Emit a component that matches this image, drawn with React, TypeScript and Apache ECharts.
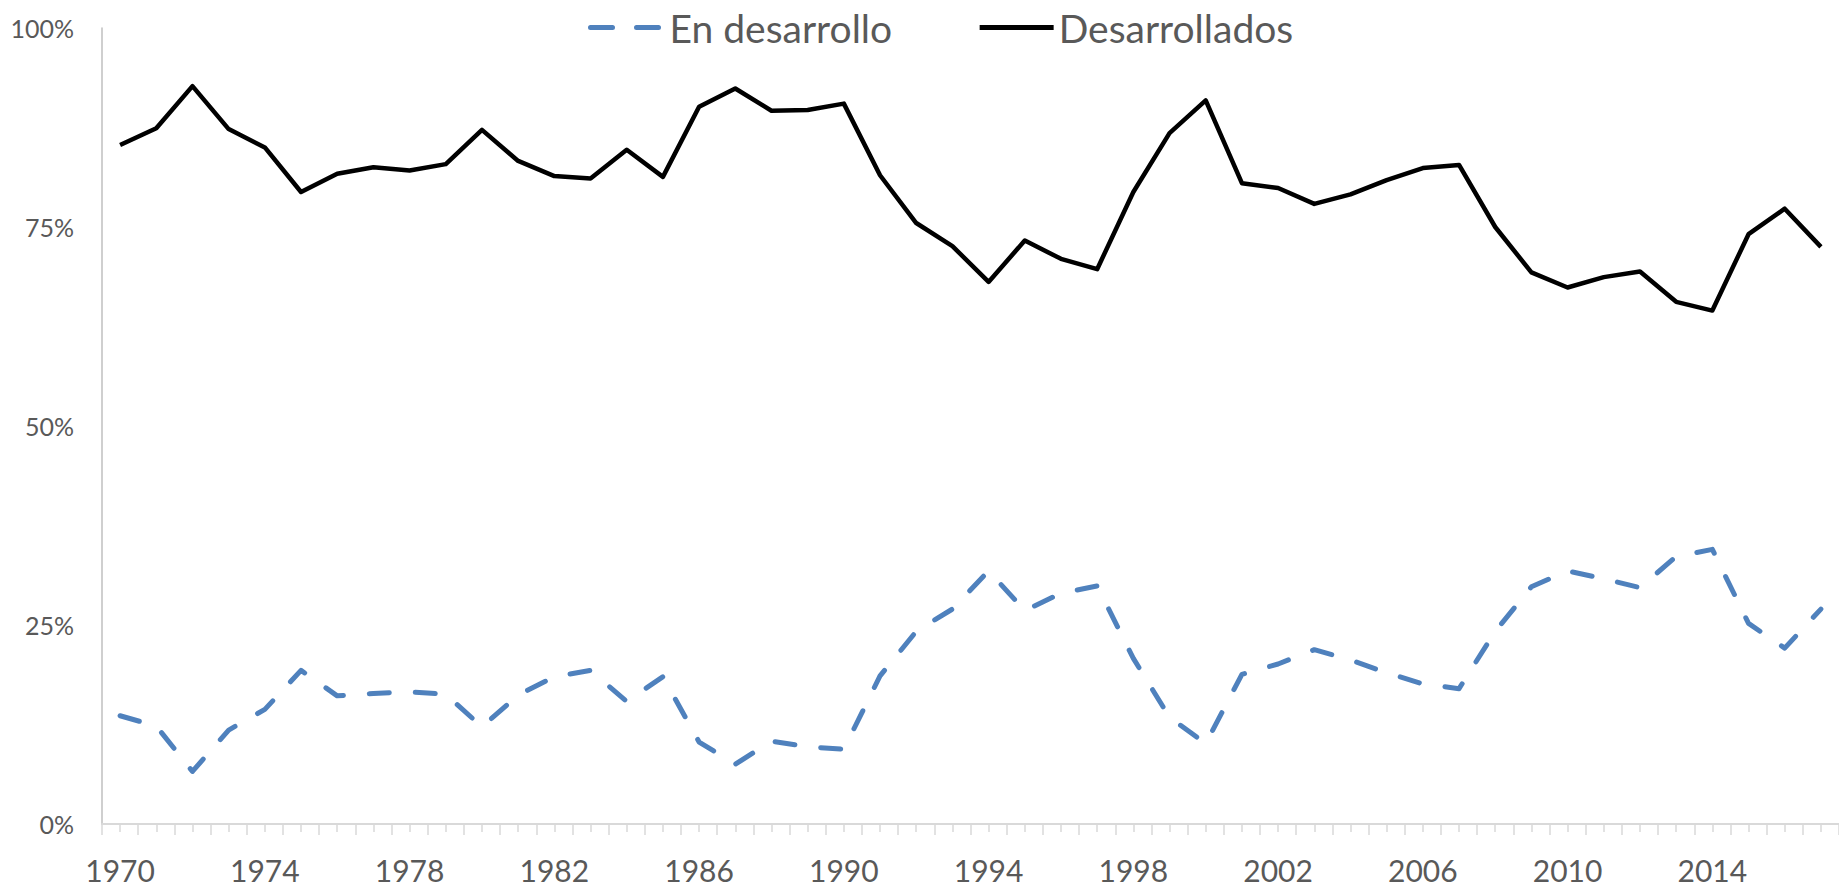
import React, { useEffect, useRef } from "react";
import * as echarts from "echarts";

const years = [
  "1970", "1971", "1972", "1973", "1974", "1975", "1976", "1977", "1978", "1979",
  "1980", "1981", "1982", "1983", "1984", "1985", "1986", "1987", "1988", "1989",
  "1990", "1991", "1992", "1993", "1994", "1995", "1996", "1997", "1998", "1999",
  "2000", "2001", "2002", "2003", "2004", "2005", "2006", "2007", "2008", "2009",
  "2010", "2011", "2012", "2013", "2014", "2015", "2016", "2017",
];

const enDesarrollo = [
  13.6, 12.3, 6.6, 11.8, 14.4, 19.3, 16.1, 16.4, 16.6, 16.3,
  12.2, 16.2, 18.5, 19.3, 15.4, 18.5, 10.3, 7.5, 10.4, 9.7,
  9.4, 18.6, 24.2, 27.0, 31.8, 26.8, 29.0, 29.9, 20.8, 13.4,
  10.1, 18.8, 20.1, 21.9, 20.6, 19.0, 17.6, 17.0, 24.2, 29.8,
  31.8, 30.8, 29.7, 33.6, 34.5, 25.2, 22.1, 27.0,
];

const desarrollados = [
  85.3, 87.4, 92.7, 87.3, 85.0, 79.4, 81.7, 82.5, 82.1, 82.9,
  87.2, 83.3, 81.4, 81.1, 84.7, 81.3, 90.1, 92.4, 89.6, 89.7,
  90.5, 81.5, 75.5, 72.6, 68.1, 73.3, 71.0, 69.7, 79.4, 86.8,
  90.9, 80.5, 79.9, 77.9, 79.1, 80.9, 82.4, 82.8, 75.0, 69.3,
  67.4, 68.7, 69.4, 65.6, 64.5, 74.1, 77.3, 72.5,
];

const seriesNames = ["En desarrollo", "Desarrollados"];
const yTicks = { min: 0, max: 100, interval: 25 };

const FONT = "Lato, 'Open Sans', sans-serif";
const TEXT = "#595959";
const BLUE = "#4f81bd";

export default function App() {
  const ref = useRef<HTMLDivElement>(null);

  useEffect(() => {
    if (!ref.current) return;
    const chart = echarts.init(ref.current, null, { renderer: "svg" });
    chart.setOption({
      animation: false,
      backgroundColor: "#ffffff",
      legend: {
        left: 583,
        top: 3,
        itemWidth: 74,
        itemHeight: 14,
        itemGap: 85,
        itemStyle: { opacity: 0 },
        data: [
          {
            name: seriesNames[0],
            lineStyle: { color: BLUE, width: 5, type: [22, 24], cap: "round" },
          },
          {
            name: seriesNames[1],
            lineStyle: { color: "#000000", width: 5, type: "solid" },
          },
        ],
        textStyle: { fontFamily: FONT, fontSize: 39, color: TEXT },
      },
      grid: { left: 102, right: 0, top: 28, bottom: 64, containLabel: false },
      xAxis: [
        {
          type: "category",
          data: years,
          boundaryGap: true,
          position: "bottom",
          axisLine: { show: true, lineStyle: { color: "#d9d9d9", width: 2 } },
          axisTick: { show: true, interval: 0, length: 11, lineStyle: { color: "#d9d9d9", width: 1.5 } },
          axisLabel: {
            interval: 3,
            margin: 31,
            fontFamily: FONT,
            fontSize: 30,
            color: TEXT,
          },
          splitLine: { show: false },
        },
        {
          type: "category",
          data: years,
          boundaryGap: true,
          position: "bottom",
          axisLine: { show: false },
          axisTick: { show: true, interval: 0, alignWithLabel: true, length: 8, lineStyle: { color: "#d9d9d9", width: 1.5 } },
          axisLabel: { show: false },
          splitLine: { show: false },
        },
      ],
      yAxis: {
        type: "value",
        min: yTicks.min,
        max: yTicks.max,
        interval: yTicks.interval,
        axisLine: { show: true, lineStyle: { color: "#bfbfbf", width: 1.5 } },
        axisTick: { show: false },
        splitLine: { show: false },
        axisLabel: {
          margin: 28,
          fontFamily: FONT,
          fontSize: 25,
          color: TEXT,
          formatter: "{value}%",
        },
      },
      series: [
        {
          name: seriesNames[0],
          type: "line",
          data: enDesarrollo,
          xAxisIndex: 0,
          symbol: "none",
          itemStyle: { color: BLUE },
          lineStyle: { color: BLUE, width: 5, type: [20, 26], cap: "round", join: "round" },
        },
        {
          name: seriesNames[1],
          type: "line",
          data: desarrollados,
          xAxisIndex: 0,
          symbol: "none",
          itemStyle: { color: "#000000" },
          lineStyle: { color: "#000000", width: 4.5, join: "round" },
        },
      ],
    });
    return () => chart.dispose();
  }, []);

  return (
    <div
      ref={ref}
      style={{ position: "absolute", left: 0, top: 0, width: 1839, height: 888 }}
    />
  );
}
